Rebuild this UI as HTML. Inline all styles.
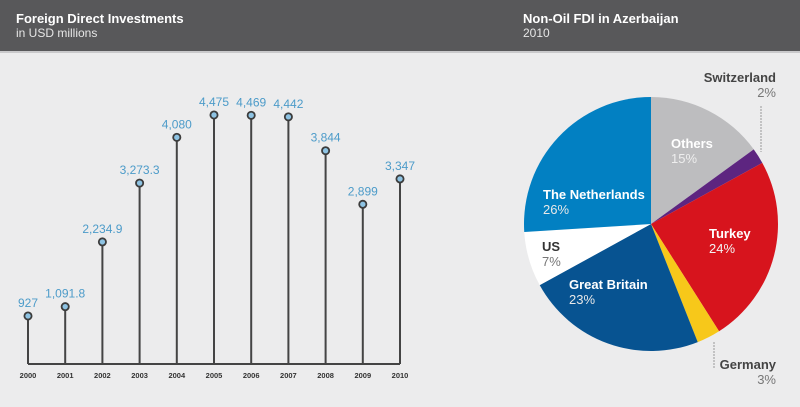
<!DOCTYPE html>
<html><head><meta charset="utf-8"><style>
body{margin:0;width:800px;height:402px;background:#ececed;font-family:"Liberation Sans",sans-serif;overflow:hidden}
</style></head><body>
<svg id="c" width="800" height="402" xmlns="http://www.w3.org/2000/svg">
<rect x="0" y="0" width="800" height="51" fill="#58585a"/>
<rect x="0" y="51" width="800" height="2" fill="#c9c9cb"/>
<text x="16" y="23" font-size="13" font-weight="bold" fill="#fff">Foreign Direct Investments</text>
<text x="16" y="37" font-size="12" fill="#e6e6e6">in USD millions</text>
<text x="523" y="23" font-size="13" font-weight="bold" fill="#fff">Non-Oil FDI in Azerbaijan</text>
<text x="523" y="37" font-size="12" fill="#e6e6e6">2010</text>
<g id="lol"></g>
<g id="pie"></g>
</svg>
<script>
const years=["2000","2001","2002","2003","2004","2005","2006","2007","2008","2009","2010"];
const values=[927,1091.8,2234.9,3273.3,4080,4475,4469,4442,3844,2899,3347];
const valueLabels=["927","1,091.8","2,234.9","3,273.3","4,080","4,475","4,469","4,442","3,844","2,899","3,347"];
const sliceNames=["Others","Switzerland","Turkey","Germany","Great Britain","US","The Netherlands"];
const sliceValues=[15,2,24,3,23,7,26];
const sliceColors=["#bdbdbf","#5d2580","#d7141d","#f7c81a","#075391","#ffffff","#0280c2"];
const NS="http://www.w3.org/2000/svg";
function mk(t,a,p){const e=document.createElementNS(NS,t);for(const k in a)e.setAttribute(k,a[k]);p.appendChild(e);return e;}
const x=i=>28+i*37.2;
const y=v=>368.5-v*0.05665;
const lol=document.getElementById('lol');
const base=mk('line',{x1:x(0),x2:x(years.length-1),y1:364,y2:364,stroke:'#444',"stroke-width":2},lol);


years.forEach((yr,i)=>{
 const st=mk('line',{x1:x(i),x2:x(i),y1:364,y2:y(values[i]),stroke:'#444',"stroke-width":2},lol);
 
 
 const d=mk('circle',{cx:x(i),cy:y(values[i]),r:3.6,fill:'#8ec3e3',stroke:'#3c3c3c',"stroke-width":1.8},lol);
 
 
 const t=mk('text',{x:x(i),y:y(values[i])-9,"text-anchor":'middle',"font-size":12,fill:'#4c9bc9'},lol);
 t.textContent=valueLabels[i];
 
 
 const l=mk('text',{x:x(i),y:378,"text-anchor":'middle',"font-size":7.5,"font-weight":'bold',fill:'#333'},lol);
 l.textContent=yr;
 
 
});
const pie=document.getElementById('pie');
const cx=651,cy=224,R=127;
const tot=sliceValues.reduce((a,b)=>a+b,0);
let a0=0;
const pt=(a,r)=>[cx+r*Math.sin(a),cy-r*Math.cos(a)];
sliceValues.forEach((v,i)=>{
 const a1=a0+v/tot*2*Math.PI;
 const p0=pt(a0,R),p1=pt(a1,R);
 const p=mk('path',{d:`M${cx},${cy}L${p0[0]},${p0[1]}A${R},${R} 0 ${a1-a0>Math.PI?1:0} 1 ${p1[0]},${p1[1]}Z`,fill:sliceColors[i]},pie);
 
 
 a0=a1;
});
const labels=[
 ["Others",671,148,'start','#fff','#eee'],
 ["The Netherlands",543,199,'start','#fff','#e8e8e8'],
 ["US",542,251,'start','#333','#777'],
 ["Great Britain",569,289,'start','#fff','#e8e8e8'],
 ["Turkey",709,238,'start','#fff','#f3f3f3'],
 ["Switzerland",776,82,'end','#444','#777'],
 ["Germany",776,369,'end','#444','#777']
];
labels.forEach(L=>{
 const i=sliceNames.indexOf(L[0]);
 const t=mk('text',{x:L[1],y:L[2],"text-anchor":L[3],"font-size":13,"font-weight":'bold',fill:L[4]},pie);
 t.textContent=L[0];
 
 
 const t2=mk('text',{x:L[1],y:L[2]+15,"text-anchor":L[3],"font-size":13,fill:L[5]},pie);
 t2.textContent=sliceValues[i]+'%';
 
 
});
const l1=mk('line',{x1:761,x2:761,y1:106,y2:152,stroke:'#999',"stroke-width":1,"stroke-dasharray":'2,1'},pie);


const l2=mk('line',{x1:714,x2:714,y1:342,y2:368,stroke:'#999',"stroke-width":1,"stroke-dasharray":'2,1'},pie);


</script>
</body></html>
